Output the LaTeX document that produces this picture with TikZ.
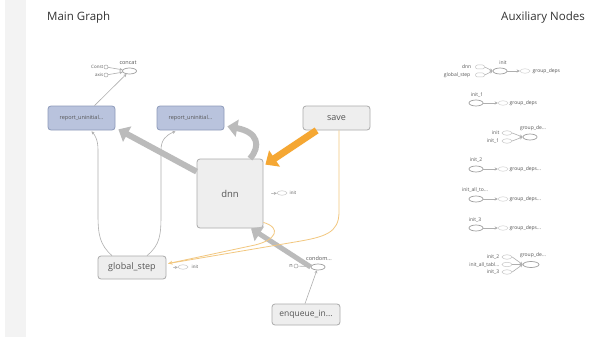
\documentclass[tikz,border=0pt]{standalone}
\usepackage{fontspec}
\setmainfont{Open Sans}
\usetikzlibrary{arrows.meta,shapes.geometric,calc}
\newcommand\myfs[1]{\fontsize{#1}{#1}\selectfont}
\definecolor{stripgray}{HTML}{F3F3F3}
\definecolor{textgray}{HTML}{555555}
\definecolor{titlegray}{HTML}{333333}
\definecolor{bluefill}{HTML}{B9C3DD}
\definecolor{bluebd}{HTML}{8E9BBA}
\definecolor{boxfill}{HTML}{EEEEEE}
\definecolor{boxbd}{HTML}{AAAAAA}
\definecolor{linegray}{HTML}{AFAFAF}
\definecolor{fatgray}{HTML}{BBBBBB}
\definecolor{orng}{HTML}{F5A733}
\definecolor{lorng}{HTML}{F2C77F}
\tikzset{
  title/.style={font=\myfs{11.5}, text=titlegray, inner sep=0pt},
  bluebox/.style={draw=bluebd, fill=bluefill, rounded corners=3pt, minimum width=67pt, minimum height=24pt, inner sep=0pt, line width=0.8pt, font=\myfs{5.5}, text=textgray},
  graybox/.style={draw=boxbd, fill=boxfill, rounded corners=3pt, inner sep=0pt, line width=0.8pt, font=\myfs{9}, text=textgray},
  op/.style={ellipse, draw=gray!75, fill=white, minimum width=14pt, minimum height=6pt, inner sep=0pt, line width=0.7pt},
  smallop/.style={ellipse, draw=gray!45, fill=white, minimum width=10pt, minimum height=4.5pt, inner sep=0pt, line width=0.5pt},
  grp/.style={ellipse, draw=gray!35, fill=white, minimum width=10pt, minimum height=4.5pt, inner sep=0pt, line width=0.5pt},
  pill/.style={draw=gray!45, fill=white, rounded corners=2pt, minimum width=9pt, minimum height=4pt, inner sep=0pt, line width=0.5pt},
  cst/.style={circle, draw=gray!70, fill=white, minimum size=4pt, inner sep=0pt, line width=0.5pt},
  lbl/.style={font=\myfs{5.5}, text=textgray, inner sep=0.5pt},
  albl/.style={font=\myfs{5}, text=textgray, inner sep=0.5pt},
  thin/.style={draw=linegray, line width=0.6pt, -{Stealth[length=3pt,width=3pt]}},
  fat/.style={draw=fatgray, line width=6pt, -{Triangle[length=10pt,width=17pt]}},
  fatorange/.style={draw=orng, line width=7pt, -{Triangle[length=11pt,width=19pt]}},
  thinorange/.style={draw=lorng, line width=0.8pt},
}
\begin{document}
\begin{tikzpicture}[x=1pt,y=-1pt]
\useasboundingbox (0,0) rectangle (592,337);
\fill[white] (0,0) rectangle (592,337);
\fill[stripgray] (5,0) rectangle (26,337);

\node[title, anchor=west] (tmain) at (47,18) {Main Graph};
\node[title, anchor=east] (taux) at (585,18) {Auxiliary Nodes};

% ---------- main graph nodes ----------
\node[bluebox, minimum width=67pt, minimum height=24pt] (rl) at (81.5,118) {report\_uninitial...};
\node[bluebox, minimum width=67pt, minimum height=24pt] (rr) at (190.5,118) {report\_uninitial...};
\node[graybox, minimum width=67pt, minimum height=24pt] (save) at (336.5,118) {save};
\node[graybox, minimum width=66pt, minimum height=69pt, font=\myfs{9.5}] (dnn) at (230,193.5) {dnn};
\node[graybox, minimum width=68pt, minimum height=23pt] (gs) at (132,267.5) {global\_step};
\node[graybox, minimum width=68pt, minimum height=21pt, font=\myfs{8.5}] (enq) at (306,314.5) {enqueue\_in...};

\node[op] (concat) at (129.5,71) {};
\node[lbl] (concatl) at (128,63) {concat};
\node[cst] (const) at (106,67) {};
\node[cst] (axis) at (106,75) {};
\node[lbl, font=\myfs{4.5}, anchor=east] (constl) at (104,67) {Const};
\node[lbl, font=\myfs{4.5}, anchor=east] (axisl) at (104,75) {axis};

\node[smallop] (dinit) at (282,193) {};
\node[lbl, font=\myfs{4.5}, anchor=west] (dinitl) at (289,193) {init};
\node[smallop] (ginit) at (183,267) {};
\node[lbl, font=\myfs{4.5}, anchor=west] (ginitl) at (191,267) {init};

\node[op] (condom) at (318,267) {};
\node[cst] (ncst) at (296,266) {};
\node[lbl, anchor=east] (nl) at (293.5,266) {n};

% ---------- main graph edges ----------
\draw[thin] (const) -- (concat);
\draw[thin] (axis) -- (concat);
\draw[thin] ($(rl.north)+(13,0)$) -- (concat);
\draw[thin] ($(dnn.east)+(8,0)$) -- (dinit);
\draw[thin] ($(gs.east)+(7,0)$) -- (ginit);
\draw[thin] (ncst) -- (condom);
\draw[thin] ($(enq.north)+(-1,0)$) -- (condom);

% global_step -> report nodes
\draw[thin] ($(gs.north)+(-20,0)$) .. controls (100,245) and (98,235) .. (98,215)
   -- (98,150) .. controls (98,140) and (95,135) .. ($(rl.south)+(10,1)$);
\draw[thin] ($(gs.north)+(15,0)$) .. controls (160,245) and (161,235) .. (161,215)
   -- (161,150) .. controls (161,140) and (166,135) .. ($(rr.south)+(-15,1)$);

% thick gray edges
\draw[fat] ($(dnn.north west)+(0,13)$) -- ($(rl.south east)+(3,-1)$);
\draw[fat] ($(dnn.north)+(20,0)$) .. controls (261,146) and (258,132) .. ($(rr.south east)+(3,-4)$);
\draw[fat, line width=5pt] (condom.west) -- ($(dnn.south)+(21,0)$);
\node[lbl, fill=white, inner sep=0.3pt] (condoml) at (319,258.5) {condom...};

% orange edges
\draw[fatorange] ($(save.south west)+(14,0)$) -- ($(dnn.north east)+(2,6)$);
\draw[thinorange] ($(save.south)+(2.5,0)$) -- (339,212) .. controls (339,233) and (325,237) .. (295,242) -- ($(gs.east)+(2,-4)$);
\draw[thinorange, -{Stealth[length=4pt,width=4pt]}] ($(dnn.south east)+(0,-6)$) .. controls (282,228) and (276,240) .. (255,245) -- ($(gs.east)+(2,-4)$);

% ---------- auxiliary nodes ----------
\node[pill] (adnn) at (480,67) {};
\node[albl, anchor=east] (adnnl) at (472,67) {dnn};
\node[pill] (ags) at (480,75) {};
\node[albl, anchor=east] (agsl) at (471,75) {global\_step};
\node[op] (ainit) at (500,71) {};
\node[albl] (ainitl) at (503,62.5) {init};
\node[grp] (ag0) at (525,71) {};
\node[albl, anchor=west] (ag0l) at (532,71) {group\_deps};
\draw[thin] (adnn.east) -- (ainit.west);
\draw[thin] (ags.east) -- (ainit.west);
\draw[thin] (ainit) -- (ag0);

\node[op] (ai1) at (476,103) {};
\node[albl] (ai1l) at (477,95) {init\_1};
\node[grp] (ag1) at (503,103) {};
\node[albl, anchor=west] (ag1l) at (509,103) {group\_deps};
\draw[thin] (ai1) -- (ag1);

\node[smallop] (bi) at (507,133) {};
\node[albl, anchor=east] (bil) at (500,133) {init};
\node[smallop] (bi1) at (507,141) {};
\node[albl, anchor=east] (bi1l) at (500,141) {init\_1};
\node[op] (bg) at (530,137) {};
\node[albl] (bgl) at (533,128) {group\_de...};
\draw[thin] (bi.east) -- (bg.west);
\draw[thin] (bi1.east) -- (bg.west);

\node[op] (ai2) at (476,169) {};
\node[albl] (ai2l) at (476,160) {init\_2};
\node[grp] (ag2) at (503,169) {};
\node[albl, anchor=west] (ag2l) at (509,169) {group\_deps...};
\draw[thin] (ai2) -- (ag2);

\node[op] (aia) at (476,199) {};
\node[albl] (aial) at (475,190) {init\_all\_to...};
\node[grp] (aga) at (503,199) {};
\node[albl, anchor=west] (agal) at (509,199) {group\_deps...};
\draw[thin] (aia) -- (aga);

\node[op] (ai3) at (476,228) {};
\node[albl] (ai3l) at (475,220) {init\_3};
\node[grp] (ag3) at (503,228) {};
\node[albl, anchor=west] (ag3l) at (509,228) {group\_deps...};
\draw[thin] (ai3) -- (ag3);

\node[smallop] (ci2) at (507,257) {};
\node[albl, anchor=east] (ci2l) at (500,257) {init\_2};
\node[smallop] (cia) at (507,264.5) {};
\node[albl, anchor=east] (cial) at (500,264.5) {init\_all\_tabl...};
\node[smallop] (ci3) at (507,272) {};
\node[albl, anchor=east] (ci3l) at (500,272) {init\_3};
\node[op, minimum width=16pt] (cg) at (531,264.5) {};
\node[albl] (cgl) at (533,255.5) {group\_de...};
\draw[thin] (ci2.east) -- (cg.west);
\draw[thin] (cia.east) -- (cg.west);
\draw[thin] (ci3.east) -- (cg.west);
\end{tikzpicture}
\end{document}
